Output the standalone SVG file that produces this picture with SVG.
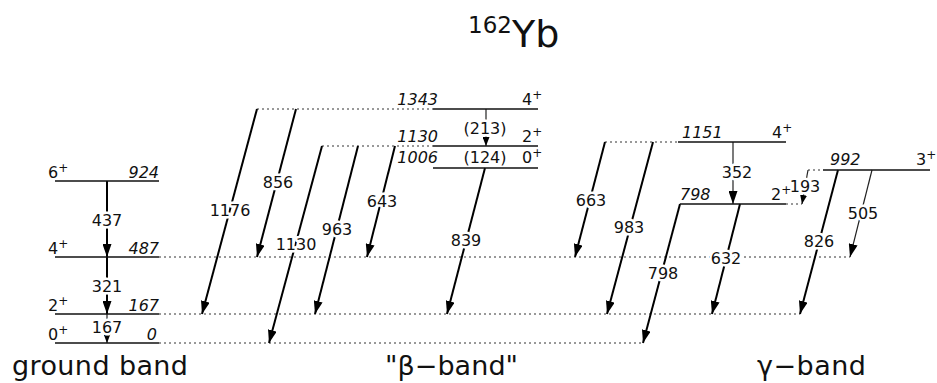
<svg xmlns="http://www.w3.org/2000/svg" width="937" height="383" viewBox="0 0 937 383">
<style>
text{font-family:"DejaVu Sans","Liberation Sans",sans-serif;fill:#111}
.lv{stroke:#111;stroke-width:1.4;fill:none}
.dt{stroke:#333;stroke-width:1;stroke-dasharray:2 3;fill:none}
.tr{stroke:#000;stroke-width:2;fill:none;marker-end:url(#ah)}
.tn{stroke:#222;stroke-width:1.2;fill:none;marker-end:url(#ah)}
.ts{stroke:#222;stroke-width:1.2;fill:none;marker-end:url(#as)}
.lb{font-size:16px;text-anchor:middle;stroke:#fff;stroke-width:5px;paint-order:stroke;stroke-linejoin:round}
.en{font-size:16px;font-style:italic}
.r{text-anchor:end}
.sp{font-size:16px}
.sup{font-size:12px}
.bd{font-size:27px}
</style>
<defs>
<marker id="ah" viewBox="-13 -4.5 13 9" refX="0" refY="0" markerWidth="13" markerHeight="9" markerUnits="userSpaceOnUse" orient="auto"><path d="M0,0 L-13,-4.5 L-13,4.5 z" fill="#000"/></marker>
<marker id="as" viewBox="-9 -3.5 9 7" refX="0" refY="0" markerWidth="9" markerHeight="7" markerUnits="userSpaceOnUse" orient="auto"><path d="M0,0 L-9,-3.5 L-9,3.5 z" fill="#000"/></marker>
</defs>
<g id="title"><text x="468" y="33" style="font-size:23px">162</text><text x="512" y="47" style="font-size:38px">Yb</text></g>
<g id="connectors">
<line class="dt" x1="159" y1="257" x2="850" y2="257"/>
<line class="dt" x1="159" y1="314" x2="800" y2="314"/>
<line class="dt" x1="159" y1="343" x2="643" y2="343"/>
<line class="dt" x1="257" y1="109" x2="433" y2="109"/>
<line class="dt" x1="322" y1="146" x2="433" y2="146"/>
<line class="dt" x1="605" y1="142" x2="678" y2="142"/>
<line class="dt" x1="786" y1="204" x2="802" y2="204"/>
<line class="dt" x1="808" y1="170" x2="823" y2="170"/>
<line class="tr" x1="107" y1="181" x2="107" y2="257"/>
<line class="tr" x1="107" y1="257" x2="107" y2="314"/>
<line class="ts" x1="107" y1="314" x2="107" y2="343"/>
<line class="tr" x1="257" y1="109" x2="202" y2="314"/>
<line class="tr" x1="296" y1="109" x2="257" y2="257"/>
<line class="tr" x1="322" y1="146" x2="269" y2="343"/>
<line class="tr" x1="358" y1="146" x2="315" y2="314"/>
<line class="tr" x1="395" y1="146" x2="367" y2="257"/>
<line class="ts" x1="486" y1="109" x2="486" y2="146"/>
<line class="tr" x1="485" y1="168" x2="447" y2="314"/>
<line class="tr" x1="605" y1="142" x2="575" y2="257"/>
<line class="tr" x1="653" y1="142" x2="607" y2="314"/>
<line class="tn" x1="733" y1="142" x2="733" y2="204"/>
<line class="tr" x1="680" y1="204" x2="643" y2="343"/>
<line class="tr" x1="740" y1="204" x2="712" y2="314"/>
<line class="ts" x1="808" y1="170" x2="802" y2="204"/>
<line class="tr" x1="838" y1="170" x2="800" y2="314"/>
<line class="tn" x1="872" y1="170" x2="850" y2="257"/>
<text class="lb" x="107" y="226">437</text>
<text class="lb" x="107" y="292">321</text>
<text class="lb" x="107" y="333">167</text>
<text class="lb" x="230" y="216">1176</text>
<text class="lb" x="278" y="188">856</text>
<text class="lb" x="296" y="250">1130</text>
<text class="lb" x="337" y="235">963</text>
<text class="lb" x="382" y="207">643</text>
<text class="lb" x="485" y="134">(213)</text>
<text class="lb" x="485" y="163">(124)</text>
<text class="lb" x="466" y="246">839</text>
<text class="lb" x="591" y="206">663</text>
<text class="lb" x="629" y="233">983</text>
<text class="lb" x="737" y="178">352</text>
<text class="lb" x="663" y="279">798</text>
<text class="lb" x="726" y="264">632</text>
<text class="lb" x="805" y="192">193</text>
<text class="lb" x="819" y="247">826</text>
<text class="lb" x="863" y="219">505</text>
</g>
<g id="g0"><line class="lv" x1="55" y1="343" x2="159" y2="343"/><text class="sp" x="48" y="340">0<tspan class="sup" dy="-6">+</tspan></text><text class="en r" x="157" y="340">0</text></g>
<g id="g2"><line class="lv" x1="55" y1="314" x2="159" y2="314"/><text class="sp" x="48" y="311">2<tspan class="sup" dy="-6">+</tspan></text><text class="en r" x="159" y="311">167</text></g>
<g id="g4"><line class="lv" x1="55" y1="257" x2="159" y2="257"/><text class="sp" x="48" y="254">4<tspan class="sup" dy="-6">+</tspan></text><text class="en r" x="159" y="254">487</text></g>
<g id="g6"><line class="lv" x1="55" y1="181" x2="159" y2="181"/><text class="sp" x="48" y="178">6<tspan class="sup" dy="-6">+</tspan></text><text class="en r" x="159" y="178">924</text></g>
<g id="b0"><line class="lv" x1="433" y1="168" x2="538" y2="168"/><text class="en r" x="438" y="163">1006</text><text class="sp" x="522" y="163">0<tspan class="sup" dy="-6">+</tspan></text></g>
<g id="b2"><line class="lv" x1="433" y1="146" x2="538" y2="146"/><text class="en r" x="438" y="142">1130</text><text class="sp" x="522" y="142">2<tspan class="sup" dy="-6">+</tspan></text></g>
<g id="b4"><line class="lv" x1="433" y1="109" x2="538" y2="109"/><text class="en r" x="438" y="105">1343</text><text class="sp" x="522" y="105">4<tspan class="sup" dy="-6">+</tspan></text></g>
<g id="y4"><line class="lv" x1="678" y1="142" x2="786" y2="142"/><text class="en" x="682" y="138">1151</text><text class="sp" x="772" y="138">4<tspan class="sup" dy="-6">+</tspan></text></g>
<g id="y2"><line class="lv" x1="680" y1="204" x2="786" y2="204"/><text class="en" x="680" y="200">798</text><text class="sp" x="771" y="200">2<tspan class="sup" dy="-6">+</tspan></text></g>
<g id="y3"><line class="lv" x1="823" y1="170" x2="930" y2="170"/><text class="en" x="830" y="165">992</text><text class="sp" x="916" y="165">3<tspan class="sup" dy="-6">+</tspan></text></g>
<g id="bands">
<text class="bd" x="12" y="375" textLength="176" lengthAdjust="spacing">ground band</text>
<text class="bd" x="385" y="375" textLength="133" lengthAdjust="spacing">"β−band"</text>
<text class="bd" x="757" y="375" textLength="109" lengthAdjust="spacing">γ−band</text>
</g>
</svg>
